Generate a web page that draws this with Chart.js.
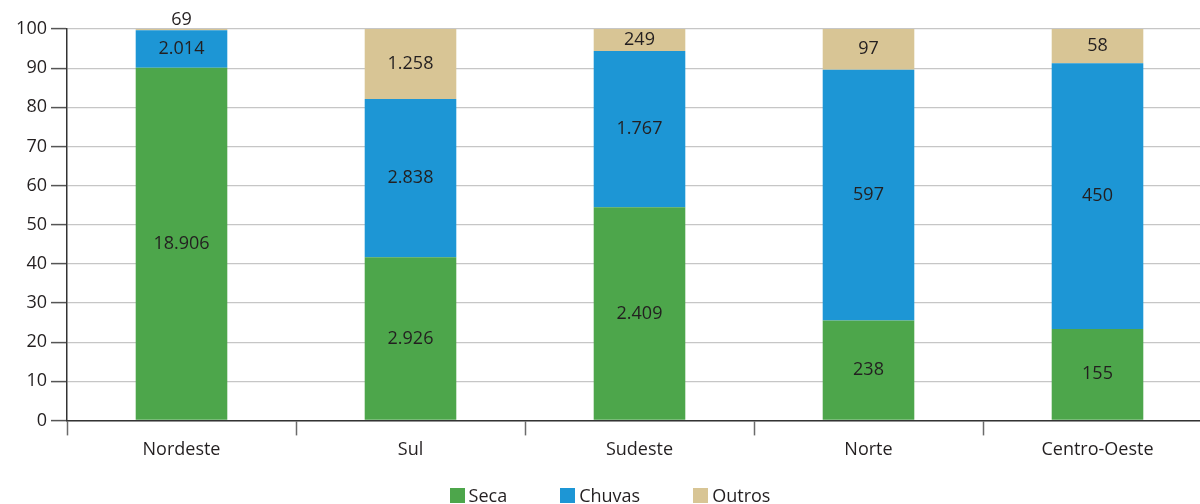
<!DOCTYPE html>
<html lang="pt-BR">
<head>
<meta charset="utf-8">
<script src="https://cdn.jsdelivr.net/npm/chart.js@4/dist/chart.umd.min.js"></script>
<style>
    html, body { margin: 0; padding: 0; background: #fff; overflow: hidden; }
    #caixa { position: relative; width: 1212px; height: 504px; }
    #legenda {
        position: absolute; left: 8px; right: 0; top: 487px;
        display: flex; justify-content: center; gap: 53px;
        font-family: "Open Sans", sans-serif; font-size: 18px; color: #231f20;
        line-height: 17px;
    }
    #legenda span.item { display: flex; align-items: center; }
    #legenda span.cor { display: inline-block; width: 15px; height: 15px; margin-right: 4px; }
</style>
</head>
<body>
<div id="caixa">
    <canvas id="graficoRegioes" width="1212" height="504"></canvas>
    <div id="legenda"></div>
</div>
<script>
const regioes = ["Nordeste", "Sul", "Sudeste", "Norte", "Centro-Oeste"];
const seca = [18906, 2926, 2409, 238, 155];
const chuvas = [2014, 2838, 1767, 597, 450];
const outros = [69, 1258, 249, 97, 58];
const ticksY = [0, 10, 20, 30, 40, 50, 60, 70, 80, 90, 100];

const cores = { seca: "#4da64b", chuvas: "#1d96d5", outros: "#d8c595" };
const fonte = "'Open Sans', sans-serif";

// totais por região, para passar as contagens a percentuais
const totais = regioes.map((_, i) => seca[i] + chuvas[i] + outros[i]);
const pct = arr => arr.map((v, i) => v / totais[i] * 100);

function formatar(n) {
    return String(n).replace(/\B(?=(\d{3})+(?!\d))/g, ".");
}

// escreve a contagem no meio de cada segmento (ou acima, se for fino demais)
const rotulos = {
    id: "rotulos",
    afterDatasetsDraw(chart) {
        const ctx = chart.ctx;
        ctx.save();
        ctx.font = "18px " + fonte;
        ctx.fillStyle = "#231f20";
        ctx.textAlign = "center";
        chart.data.datasets.forEach((ds, d) => {
            const meta = chart.getDatasetMeta(d);
            meta.data.forEach((barra, i) => {
                const altura = Math.abs(barra.base - barra.y);
                const texto = formatar(ds.contagens[i]);
                if (altura < 12) {
                    ctx.textBaseline = "bottom";
                    ctx.fillText(texto, barra.x, barra.y);
                } else {
                    ctx.textBaseline = "middle";
                    ctx.fillText(texto, barra.x, (barra.y + barra.base) / 2);
                }
            });
        });
        ctx.restore();
    }
};

document.addEventListener("DOMContentLoaded", () => {
    const lienzo = document.getElementById("graficoRegioes");

    const conjuntos = [
        { label: "Seca", data: pct(seca), contagens: seca, backgroundColor: cores.seca },
        { label: "Chuvas", data: pct(chuvas), contagens: chuvas, backgroundColor: cores.chuvas },
        { label: "Outros", data: pct(outros), contagens: outros, backgroundColor: cores.outros }
    ];

    new Chart(lienzo, {
        type: "bar",
        data: {
            labels: regioes,
            datasets: conjuntos.map(c => ({
                ...c,
                borderWidth: 0,
                categoryPercentage: 0.4,
                barPercentage: 1
            }))
        },
        options: {
            responsive: false,
            animation: false,
            layout: { padding: { left: 8, top: 29, right: 0, bottom: 39 } },
            plugins: {
                legend: { display: false },
                tooltip: {
                    callbacks: {
                        label: c => c.dataset.label + ": " + formatar(c.dataset.contagens[c.dataIndex])
                    }
                }
            },
            scales: {
                x: {
                    stacked: true,
                    grid: {
                        drawOnChartArea: false,
                        offset: true,
                        tickLength: 15,
                        tickColor: "#6b6b6b",
                        tickWidth: 1.5
                    },
                    border: { color: "#333", width: 1.5 },
                    ticks: {
                        padding: 4,
                        color: "#231f20",
                        font: { family: fonte, size: 18 }
                    }
                },
                y: {
                    stacked: true,
                    min: 0,
                    max: 100,
                    afterBuildTicks: eixo => { eixo.ticks = ticksY.map(v => ({ value: v })); },
                    afterFit: eixo => { eixo.width = 59; },
                    grid: {
                        color: "#c6c6c6",
                        lineWidth: 1.2,
                        tickLength: 16,
                        tickColor: "#555",
                        tickWidth: 1.5
                    },
                    border: { color: "#333", width: 1.5 },
                    ticks: {
                        padding: 4,
                        color: "#231f20",
                        font: { family: fonte, size: 18 }
                    }
                }
            }
        },
        plugins: [rotulos]
    });

    const legenda = document.getElementById("legenda");
    conjuntos.forEach(c => {
        const item = document.createElement("span");
        item.className = "item";
        item.innerHTML = '<span class="cor" style="background:' + c.backgroundColor + '"></span>' + c.label;
        legenda.appendChild(item);
    });
});
</script>
</body>
</html>
